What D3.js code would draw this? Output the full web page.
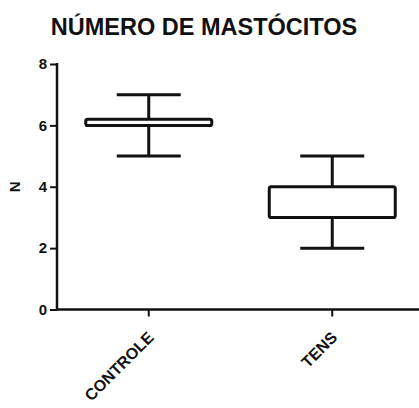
<!DOCTYPE html>
<html>
<head>
<meta charset="utf-8">
<script src="https://cdn.jsdelivr.net/npm/d3@7"></script>
<style>
  html, body { margin: 0; padding: 0; background: #fff; }
  svg text { font-family: "Liberation Sans", Arial, sans-serif; font-weight: bold; fill: #111; }
</style>
</head>
<body>
<svg id="chart" width="419" height="408"></svg>
<script>
// Groups and box-plot statistics (number of mast cells)
const groups = ["CONTROLE", "TENS"];
const whiskerMin = [5, 2];
const q1 = [6, 3];
const median = [6, 3];
const q3 = [6.2, 4];
const whiskerMax = [7, 5];
const yTicks = [0, 2, 4, 6, 8];

const svg = d3.select("#chart");
const margin = { left: 57, top: 64, right: -5, bottom: 98 };
const W = 419, H = 408;

const x = d3.scaleBand().domain(groups)
  .range([margin.left, W - margin.right]).paddingInner(0).paddingOuter(0);
const y = d3.scaleLinear().domain([0, 8]).range([H - margin.bottom - 0.5, margin.top]);

const ink = "#111";
const boxW = 126, capW = 64;

// title
svg.append("text")
  .attr("x", 204).attr("y", 35)
  .attr("text-anchor", "middle")
  .style("font-size", "23.5px")
  .text("NÚMERO DE MASTÓCITOS");

// y axis
const yAxis = svg.append("g")
  .attr("transform", `translate(${margin.left},0)`)
  .call(d3.axisLeft(y).tickValues(yTicks).tickFormat(d3.format("d")).tickSize(7).tickPadding(3));
yAxis.select(".domain").attr("stroke", ink).attr("stroke-width", 2.5)
  .attr("d", `M0,${y(8) - 1}V${y(0)}`);
yAxis.selectAll(".tick line").attr("stroke", ink).attr("stroke-width", 2);
yAxis.selectAll(".tick text").style("font-size", "15px").attr("fill", ink);

// y axis title
svg.append("text")
  .attr("transform", `translate(20,${y(4)}) rotate(-90)`)
  .attr("text-anchor", "middle")
  .style("font-size", "15px")
  .text("N");

// x axis
const xAxis = svg.append("g")
  .attr("transform", `translate(0,${y(0)})`)
  .call(d3.axisBottom(x).tickSize(7).tickSizeOuter(0));
xAxis.select(".domain").attr("stroke", ink).attr("stroke-width", 2.5)
  .attr("d", `M${margin.left - 1},0H${W + 5}`);
xAxis.selectAll(".tick line").attr("stroke", ink).attr("stroke-width", 2);
xAxis.selectAll(".tick text")
  .style("font-size", "16px")
  .attr("fill", ink)
  .attr("text-anchor", "end")
  .attr("dy", null).attr("y", 0)
  .attr("transform", "translate(6,29) rotate(-45)");

// boxes
const data = groups.map((g, i) => ({
  g, lo: whiskerMin[i], q1: q1[i], med: median[i], q3: q3[i], hi: whiskerMax[i]
}));

const box = svg.append("g").selectAll("g").data(data).join("g")
  .attr("transform", d => `translate(${x(d.g) + x.bandwidth() / 2},0)`);

const sw = 3;
box.append("line")
  .attr("x1", 0).attr("x2", 0)
  .attr("y1", d => y(d.hi)).attr("y2", d => y(d.q3))
  .attr("stroke", ink).attr("stroke-width", sw);
box.append("line")
  .attr("x1", 0).attr("x2", 0)
  .attr("y1", d => y(d.q1)).attr("y2", d => y(d.lo))
  .attr("stroke", ink).attr("stroke-width", sw);
box.append("line")
  .attr("x1", -capW / 2).attr("x2", capW / 2)
  .attr("y1", d => y(d.hi)).attr("y2", d => y(d.hi))
  .attr("stroke", ink).attr("stroke-width", sw);
box.append("line")
  .attr("x1", -capW / 2).attr("x2", capW / 2)
  .attr("y1", d => y(d.lo)).attr("y2", d => y(d.lo))
  .attr("stroke", ink).attr("stroke-width", sw);
box.append("rect")
  .attr("x", -boxW / 2).attr("width", boxW)
  .attr("y", d => y(d.q3)).attr("height", d => y(d.q1) - y(d.q3))
  .attr("rx", 2)
  .attr("fill", "#fff").attr("stroke", ink).attr("stroke-width", sw);
box.append("line")
  .attr("x1", -boxW / 2).attr("x2", boxW / 2)
  .attr("y1", d => y(d.med)).attr("y2", d => y(d.med))
  .attr("stroke", ink).attr("stroke-width", sw);
</script>
</body>
</html>
